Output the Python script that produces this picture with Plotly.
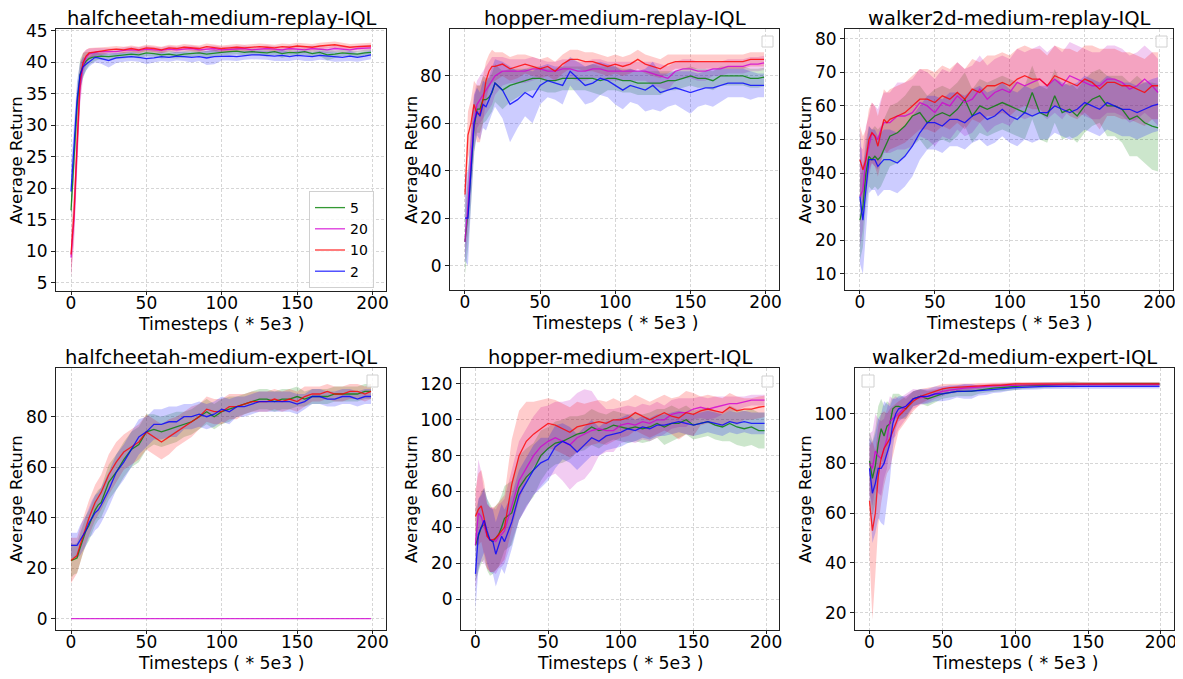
import plotly.graph_objects as go

# target picture size and the 8px page margin that the browser adds round the figure
W, H = 1183, 679
OFF = 8
FW, FH = W - OFF, H - OFF

# timesteps (* 5e3) at which the curves are read
steps = [0, 2, 4, 6, 8, 10, 12, 14, 16, 18, 20] + list(range(25, 200, 5)) + [199]

labels = ["5", "20", "10", "2"]
line_colors = ["rgba(0,128,0,0.8)", "rgba(210,0,210,0.8)", "rgba(255,0,0,0.8)", "rgba(0,0,255,0.8)"]
fill_colors = ["rgba(0,128,0,0.2)", "rgba(191,0,191,0.2)", "rgba(255,0,0,0.2)", "rgba(0,0,255,0.2)"]

titles = ["halfcheetah-medium-replay-IQL", "hopper-medium-replay-IQL", "walker2d-medium-replay-IQL",
          "halfcheetah-medium-expert-IQL", "hopper-medium-expert-IQL", "walker2d-medium-expert-IQL"]

# ---------------- halfcheetah-medium-replay
hcr_5 = [16.5, 24, 33, 38, 39.5, 40.2, 40.6, 40.8, 40.9, 41.0, 41.0,
         40.9, 41.0, 41.1, 41.3, 41.2, 41.5, 41.4,
         41.2, 41.3, 41.1, 41.3, 41.4, 41.5, 41.3,
         41.5, 41.6, 41.7, 41.8, 41.6, 41.7, 41.6,
         41.5, 41.7, 41.4, 41.6, 41.5, 41.7, 41.4,
         41.6, 41.2, 41.3, 41.5, 41.4, 41.3, 41.5,
         41.6]
hcr_5_sd = [2.5, 3, 3, 2.5, 2, 1.5, 1, 0.8, 0.7, 0.6, 0.6,
            0.5, 0.5, 0.5, 0.5, 0.6, 0.5, 0.5,
            0.6, 0.6, 0.5, 0.5, 0.5, 0.5, 0.5,
            0.5, 0.5, 0.5, 0.5, 0.5, 0.5, 0.5,
            0.6, 0.5, 0.7, 0.5, 0.5, 0.5, 0.5,
            0.6, 0.9, 0.6, 0.5, 0.5, 0.5, 0.5,
            0.5]
hcr_20 = [9, 15, 26, 36, 39.5, 40.8, 41.3, 41.5, 41.6, 41.7, 41.7,
          41.8, 41.7, 41.9, 42.0, 41.9, 42.1, 42.0,
          41.9, 42.1, 42.0, 42.1, 42.2, 42.0, 42.1,
          42.2, 42.0, 42.1, 42.1, 42.2, 42.0, 42.1,
          42.2, 42.1, 42.0, 42.2, 42.1, 42.0, 42.2,
          42.1, 42.0, 42.2, 42.1, 42.0, 42.2, 42.3,
          42.3]
hcr_20_sd = [3, 4, 4, 3, 2, 1.2, 0.9, 0.8, 0.7, 0.6, 0.6,
             0.5, 0.5, 0.5, 0.5, 0.5, 0.5, 0.5,
             0.5, 0.5, 0.5, 0.5, 0.5, 0.5, 0.5,
             0.5, 0.5, 0.5, 0.5, 0.5, 0.5, 0.5,
             0.5, 0.5, 0.5, 0.5, 0.5, 0.5, 0.5,
             0.5, 0.5, 0.5, 0.5, 0.5, 0.5, 0.5,
             0.5]
hcr_10 = [9.5, 16, 27, 37, 40, 41, 41.5, 41.6, 41.7, 41.8, 41.8,
          42.0, 42.1, 42.0, 42.2, 42.0, 42.3, 42.2,
          42.0, 42.3, 42.2, 42.4, 42.3, 42.2, 42.5,
          42.3, 42.2, 42.3, 42.4, 42.3, 42.4, 42.5,
          42.4, 42.3, 42.5, 42.4, 42.6, 42.5, 42.4,
          42.6, 42.7, 42.8, 42.6, 42.4, 42.5, 42.6,
          42.6]
hcr_10_sd = [3.5, 4, 4, 3, 1.5, 1, 0.8, 0.7, 0.7, 0.6, 0.6,
             0.5, 0.5, 0.5, 0.5, 0.5, 0.5, 0.5,
             0.5, 0.5, 0.5, 0.5, 0.5, 0.5, 0.5,
             0.5, 0.5, 0.5, 0.5, 0.5, 0.5, 0.5,
             0.5, 0.5, 0.5, 0.5, 0.5, 0.5, 0.5,
             0.5, 0.5, 0.5, 0.5, 0.5, 0.5, 0.5,
             0.5]
hcr_2 = [19.5, 26, 34, 38, 39.3, 39.7, 40.1, 40.5, 40.8, 40.7, 40.6,
         40.3, 40.7, 40.8, 40.9, 40.8, 40.6, 40.7,
         40.9, 40.8, 41.0, 40.9, 40.8, 40.9, 40.7,
         40.9, 41.0, 41.0, 40.9, 41.1, 41.2, 41.2,
         41.1, 41.0, 41.1, 40.9, 41.1, 41.0, 40.9,
         41.1, 41.0, 40.9, 40.8, 41.0, 40.8, 41.0,
         41.2]
hcr_2_sd = [4, 4, 3, 2, 1.5, 1, 0.8, 0.8, 0.8, 0.8, 0.8,
            1.1, 0.8, 0.7, 0.7, 0.7, 0.9, 0.7,
            0.7, 0.7, 0.7, 0.7, 0.8, 0.7, 1.1,
            1.2, 0.7, 0.7, 0.7, 0.7, 0.7, 0.7,
            0.7, 0.8, 0.9, 0.7, 0.7, 0.8, 0.7,
            0.7, 0.7, 0.8, 0.7, 0.8, 0.7, 0.7,
            0.7]

# ---------------- hopper-medium-replay
hor_5 = [10, 22, 40, 58, 66, 66, 70, 70, 71, 73, 77,
         74, 76, 77, 78, 79, 79, 78,
         78, 79, 79, 79, 79, 79, 78,
         79, 79, 78, 78, 77, 77, 77,
         77, 78, 78, 79, 80, 79, 79,
         78, 80, 80, 80, 80, 79, 79,
         79.5]
hor_5_sd = [14, 15, 15, 12, 10, 10, 10, 9, 8, 8, 8,
            8, 7, 6, 5, 5, 5, 5,
            5, 5, 5, 5, 5, 6, 6,
            5, 5, 5, 5, 5, 5, 5,
            5, 4, 4, 4, 4, 4, 4,
            4, 4, 4, 4, 4, 4, 4,
            4]
hor_20 = [10, 25, 45, 60, 68, 70, 72, 74, 76, 78, 80,
          82, 82, 82, 82, 83, 83, 82,
          82, 83, 83, 82, 82, 83, 83,
          82, 82, 82, 82, 82, 82, 81,
          80, 79, 82, 83, 83, 82, 82,
          83, 83, 84, 84, 84, 85, 85,
          85.5]
hor_20_sd = [8, 12, 14, 12, 10, 10, 10, 10, 10, 10, 8,
             6, 5, 5, 5, 5, 4, 4,
             4, 4, 4, 4, 4, 4, 4,
             4, 4, 4, 4, 4, 4, 5,
             5, 5, 4, 4, 4, 4, 4,
             3, 3, 3, 3, 3, 3, 3,
             3]
hor_10 = [30, 55, 60, 68, 64, 64, 70, 78, 82, 84, 84,
          85, 83, 84, 85, 84, 83, 84,
          82, 85, 87, 87, 86, 86, 85,
          84, 85, 84, 85, 87, 85, 84,
          83, 85, 86, 86, 86, 86, 86,
          86, 86, 86, 86, 86, 87, 87,
          87]
hor_10_sd = [8, 10, 10, 10, 12, 12, 10, 8, 7, 7, 6,
             5, 5, 5, 4, 4, 4, 4,
             4, 4, 4, 4, 4, 4, 4,
             4, 4, 4, 4, 4, 4, 4,
             4, 4, 3, 3, 3, 3, 3,
             3, 3, 3, 3, 3, 3, 3,
             3]
hor_2 = [20, 20, 40, 60, 65, 63, 68, 67, 70, 74, 77,
         74, 68, 70, 73, 71, 76, 78,
         77, 76, 82, 79, 76, 77, 79,
         78, 76, 74, 76, 75, 74, 76,
         73, 74, 75, 74, 73, 74, 75,
         75, 76, 77, 77, 77, 76, 76,
         76]
hor_2_sd = [18, 20, 15, 12, 10, 10, 10, 10, 10, 10, 10,
            12, 16, 12, 10, 11, 8, 7,
            7, 8, 6, 7, 8, 8, 7,
            7, 8, 8, 7, 7, 9, 10,
            8, 7, 7, 8, 9, 7, 7,
            8, 7, 6, 6, 6, 6, 5,
            5]

# ---------------- walker2d-medium-replay
wkr_5 = [26, 30, 40, 45, 44, 45, 44, 45, 47, 49, 51,
         52, 54, 57, 58, 55, 57, 58,
         57, 59, 62, 57, 60, 59, 60,
         61, 60, 59, 58, 64, 58, 57,
         63, 58, 59, 57, 60, 62, 63,
         60, 60, 59, 56, 57, 55, 54,
         53.5]
wkr_5_sd = [12, 12, 10, 9, 9, 9, 9, 9, 9, 9, 9,
            9, 9, 9, 8, 8, 8, 8,
            8, 8, 8, 8, 8, 8, 8,
            8, 8, 8, 8, 8, 8, 8,
            8, 8, 8, 8, 8, 8, 8,
            9, 9, 10, 11, 12, 12, 13,
            13]
wkr_20 = [33, 35, 44, 48, 52, 51, 50, 53, 55, 55, 55,
          57, 57, 58, 61, 60, 58, 61,
          60, 63, 61, 62, 65, 62, 64,
          65, 64, 67, 66, 67, 68, 66,
          68, 66, 69, 68, 67, 66, 66,
          68, 68, 67, 65, 66, 68, 66,
          64]
wkr_20_sd = [15, 12, 10, 9, 9, 9, 9, 9, 9, 9, 9,
             10, 10, 10, 10, 10, 10, 10,
             10, 10, 10, 10, 10, 10, 10,
             10, 10, 10, 10, 10, 10, 10,
             10, 10, 10, 10, 10, 10, 10,
             10, 10, 10, 10, 10, 10, 10,
             10]
wkr_10 = [44, 41, 44, 50, 52, 51, 48, 52, 56, 55, 56,
          57, 58, 60, 62, 62, 61, 63,
          62, 64, 62, 65, 64, 66, 66,
          67, 66, 68, 69, 68, 68, 66,
          69, 68, 67, 66, 68, 67, 65,
          67, 67, 66, 66, 65, 64, 66,
          66]
wkr_10_sd = [10, 10, 9, 9, 9, 9, 9, 9, 9, 9, 9,
             9, 9, 9, 9, 9, 9, 9,
             9, 9, 9, 9, 9, 9, 9,
             9, 9, 9, 9, 9, 9, 9,
             9, 9, 10, 10, 10, 11, 12,
             10, 10, 10, 10, 10, 10, 10,
             10]
wkr_2 = [33, 26, 35, 44, 44, 44, 42, 43, 44, 44, 44,
         43, 45, 48, 52, 55, 55, 54,
         56, 56, 55, 57, 58, 56, 57,
         59, 57, 56, 58, 57, 58, 58,
         60, 59, 58, 59, 61, 60, 59,
         61, 60, 59, 59, 58, 59, 60,
         60.5]
wkr_2_sd = [20, 16, 12, 10, 9, 9, 9, 9, 9, 9, 9,
            9, 9, 9, 8, 8, 8, 8,
            8, 8, 8, 8, 8, 8, 8,
            8, 8, 8, 8, 8, 8, 8,
            8, 8, 8, 8, 8, 8, 8,
            8, 8, 8, 8, 8, 8, 8,
            8]

# ---------------- halfcheetah-medium-expert
hce_5 = [23, 23.5, 24, 28, 32, 35, 37, 40, 43, 45, 46,
         54, 58, 63, 67, 69, 74, 75,
         74, 75, 76, 77, 78, 80, 82,
         80, 82, 83, 84, 85, 86, 87,
         87, 86, 87, 87, 88, 87, 88,
         88, 88, 89, 89, 89, 89, 90,
         90]
hce_5_sd = [7, 6, 6, 6, 6, 6, 6, 6, 6, 6, 6,
            7, 7, 7, 7, 7, 7, 6,
            6, 6, 6, 5, 5, 5, 5,
            5, 5, 5, 4, 4, 4, 4,
            4, 4, 4, 4, 4, 3, 3,
            3, 3, 3, 3, 3, 3, 3,
            3]
hce_20 = [0, 0, 0, 0, 0, 0, 0, 0, 0, 0, 0,
          0, 0, 0, 0, 0, 0, 0,
          0, 0, 0, 0, 0, 0, 0,
          0, 0, 0, 0, 0, 0, 0,
          0, 0, 0, 0, 0, 0, 0,
          0, 0, 0, 0, 0, 0, 0,
          0]
hce_20_sd = [0, 0, 0, 0, 0, 0, 0, 0, 0, 0, 0,
             0, 0, 0, 0, 0, 0, 0,
             0, 0, 0, 0, 0, 0, 0,
             0, 0, 0, 0, 0, 0, 0,
             0, 0, 0, 0, 0, 0, 0,
             0, 0, 0, 0, 0, 0, 0,
             0]
hce_10 = [23, 24, 25, 29, 33, 37, 40, 43, 46, 48, 50,
          57, 62, 66, 68, 70, 74, 72,
          70, 72, 74, 76, 78, 80, 83,
          82, 82, 84, 84, 85, 86, 86,
          86, 87, 86, 87, 86, 88, 89,
          89, 90, 89, 89, 90, 90, 89,
          90]
hce_10_sd = [9, 8, 7, 7, 7, 7, 7, 7, 7, 7, 7,
             8, 8, 7, 7, 7, 7, 7,
             7, 7, 6, 6, 6, 5, 5,
             5, 5, 5, 5, 4, 4, 4,
             4, 4, 4, 4, 4, 4, 3,
             3, 3, 3, 3, 3, 3, 3,
             3]
hce_2 = [29, 29, 29, 31, 33, 35, 38, 40, 42, 43, 45,
         51, 58, 62, 67, 72, 74, 77,
         77, 78, 78, 80, 80, 81, 80,
         81, 83, 82, 84, 84, 85, 86,
         86, 86, 86, 86, 85, 86, 88,
         88, 87, 87, 88, 88, 87, 88,
         88]
hce_2_sd = [5, 5, 5, 6, 6, 6, 6, 7, 7, 7, 7,
            7, 7, 7, 7, 7, 6, 6,
            6, 6, 6, 5, 5, 5, 5,
            5, 5, 5, 4, 4, 4, 4,
            4, 4, 4, 4, 4, 3, 3,
            3, 3, 3, 3, 3, 3, 3,
            3]

# ---------------- hopper-medium-expert
hoe_5 = [30, 35, 40, 42, 36, 33, 32, 34, 36, 40, 45,
         48, 62, 68, 72, 80, 84, 87,
         88, 90, 92, 93, 96, 94, 95,
         97, 96, 95, 96, 95, 96, 98,
         96, 98, 98, 100, 97, 98, 99,
         97, 96, 98, 96, 95, 96, 94,
         94]
hoe_5_sd = [20, 20, 20, 20, 20, 20, 18, 18, 18, 18, 18,
            18, 18, 16, 15, 14, 12, 12,
            12, 12, 10, 10, 10, 10, 8,
            8, 8, 8, 8, 8, 8, 8,
            10, 10, 8, 8, 8, 8, 8,
            8, 8, 10, 10, 10, 10, 10,
            10]
hoe_20 = [30, 48, 46, 40, 35, 33, 33, 32, 35, 36, 38,
          52, 66, 73, 80, 85, 88, 90,
          88, 86, 90, 92, 94, 95, 94,
          94, 97, 98, 97, 99, 98, 100,
          100, 103, 104, 104, 106, 107, 106,
          107, 108, 109, 109, 110, 111, 111,
          111]
hoe_20_sd = [25, 30, 25, 20, 18, 18, 18, 18, 18, 18, 18,
             20, 22, 22, 22, 22, 20, 20,
             22, 25, 25, 25, 22, 15, 12,
             12, 10, 10, 10, 10, 10, 10,
             8, 8, 8, 8, 6, 6, 6,
             6, 5, 4, 4, 3, 3, 3,
             3]
hoe_10 = [46, 50, 52, 45, 35, 33, 33, 34, 36, 38, 40,
          64, 80, 88, 92, 95, 98, 97,
          95, 93, 96, 97, 98, 99, 98,
          100, 100, 101, 104, 102, 100, 102,
          104, 102, 101, 104, 103, 105, 106,
          105, 104, 107, 105, 106, 106, 107,
          107.5]
hoe_10_sd = [15, 20, 20, 20, 18, 18, 18, 18, 18, 18, 18,
             25, 25, 22, 18, 16, 14, 14,
             14, 14, 14, 12, 12, 12, 12,
             12, 10, 10, 10, 10, 10, 10,
             10, 10, 12, 12, 12, 8, 8,
             8, 8, 8, 8, 6, 6, 6,
             6]
hoe_2 = [14, 36, 40, 44, 38, 33, 32, 25, 30, 35, 32,
         43, 58, 65, 72, 76, 78, 85,
         88, 86, 82, 86, 90, 88, 91,
         92, 93, 95, 94, 96, 95, 97,
         97, 98, 99, 98, 97, 98, 99,
         98, 97, 99, 98, 99, 98, 98,
         98]
hoe_2_sd = [20, 20, 18, 18, 18, 18, 18, 18, 18, 18, 18,
            15, 14, 14, 14, 14, 12, 12,
            10, 10, 10, 10, 10, 8, 8,
            8, 8, 8, 6, 6, 6, 6,
            6, 6, 6, 6, 6, 6, 6,
            6, 6, 6, 6, 6, 6, 6,
            6]

# ---------------- walker2d-medium-expert
wke_5 = [81, 74, 79, 88, 94, 91, 95, 96, 102, 103, 103,
         102, 106, 107, 106, 107, 108, 108.5,
         109, 109, 109, 109.5, 110, 110.3, 110.5,
         110.8, 111, 111.2, 111.3, 111.5, 111.5, 111.6,
         111.7, 111.8, 111.8, 111.8, 111.9, 111.9, 111.9,
         112, 112, 112, 112, 112, 112, 112,
         112]
wke_5_sd = [12, 15, 15, 15, 12, 12, 10, 8, 6, 5, 5,
            4, 3, 3, 3, 2.5, 2, 2,
            2, 2, 2, 1.5, 1.5, 1.5, 1.5,
            1.5, 1.5, 1.2, 1.2, 1, 1, 1,
            1, 1, 1.2, 1, 0.8, 0.8, 0.8,
            0.8, 0.8, 0.8, 0.8, 0.8, 0.8, 0.8,
            0.8]
wke_20 = [80, 78, 85, 83, 82, 86, 90, 97, 98, 99, 100,
          103, 106, 106.5, 107, 108, 109, 109.5,
          110, 110.3, 110.5, 110.8, 111, 111.2, 111.3,
          111.4, 111.5, 111.6, 111.6, 111.7, 111.7, 111.7,
          111.8, 111.8, 111.8, 111.8, 111.8, 111.8, 111.8,
          111.8, 111.8, 111.8, 111.8, 111.8, 111.8, 111.8,
          111.8]
wke_20_sd = [12, 15, 15, 15, 15, 12, 12, 10, 8, 8, 6,
             5, 4, 3, 2.5, 2, 2, 1.5,
             1.5, 1.5, 1.2, 1.2, 1, 1, 1,
             1, 1, 1, 1, 1, 1, 1,
             0.8, 0.8, 0.8, 0.8, 0.8, 0.8, 0.8,
             0.8, 0.8, 0.8, 0.8, 0.8, 0.8, 0.8,
             0.8]
wke_10 = [65, 53, 60, 75, 82, 86, 88, 90, 93, 96, 99,
          102, 105, 107, 108, 109, 110, 110.5,
          110.5, 110.8, 111, 111.2, 111.5, 111.5, 111.5,
          111.8, 112, 112, 112, 112, 112, 112,
          112, 112, 112, 112, 112, 112, 112,
          112, 112, 112, 112, 112, 112, 112,
          112]
wke_10_sd = [22, 36, 25, 20, 18, 15, 12, 12, 10, 8, 6,
             5, 4, 3, 2.5, 2, 2, 1.5,
             1.5, 1.5, 1.2, 1.2, 1, 1, 1,
             0.7, 0.7, 0.7, 0.7, 0.7, 0.7, 0.7,
             0.7, 0.7, 0.7, 0.7, 0.7, 0.7, 0.7,
             0.7, 0.7, 0.7, 0.7, 0.7, 0.7, 0.7,
             0.7]
wke_2 = [78, 68, 72, 78, 78, 80, 84, 88, 96, 100, 102,
         103, 106, 107, 107, 108, 108, 108.5,
         109, 109, 109, 109.3, 109.5, 109.8, 110,
         110.3, 110.5, 110.6, 110.8, 110.8, 111, 111,
         111, 111, 111, 111, 111, 111, 111,
         111, 111, 111, 111, 111, 111, 111,
         111]
wke_2_sd = [12, 20, 20, 20, 22, 25, 20, 15, 10, 6, 5,
            4, 3, 3, 3, 3, 3, 3,
            2.5, 3, 3, 2, 2, 1.5, 1.5,
            1.2, 1, 1, 1, 1, 1, 1,
            0.8, 0.8, 0.8, 0.8, 0.8, 0.8, 0.8,
            0.8, 0.8, 0.8, 0.8, 0.8, 0.8, 0.8,
            0.8]

panels = [
    [(hcr_5, hcr_5_sd), (hcr_20, hcr_20_sd), (hcr_10, hcr_10_sd), (hcr_2, hcr_2_sd)],
    [(hor_5, hor_5_sd), (hor_20, hor_20_sd), (hor_10, hor_10_sd), (hor_2, hor_2_sd)],
    [(wkr_5, wkr_5_sd), (wkr_20, wkr_20_sd), (wkr_10, wkr_10_sd), (wkr_2, wkr_2_sd)],
    [(hce_5, hce_5_sd), (hce_20, hce_20_sd), (hce_10, hce_10_sd), (hce_2, hce_2_sd)],
    [(hoe_5, hoe_5_sd), (hoe_20, hoe_20_sd), (hoe_10, hoe_10_sd), (hoe_2, hoe_2_sd)],
    [(wke_5, wke_5_sd), (wke_20, wke_20_sd), (wke_10, wke_10_sd), (wke_2, wke_2_sd)],
]

# axes boxes in screen pixels (left, right, top, bottom), y ranges and tick step
boxes = [(56, 386, 29, 291), (450, 779, 29, 290), (845, 1173, 29, 290),
         (56, 386, 368, 630), (461, 779, 368, 630), (855, 1174, 368, 630)]
ylabel_x = [16, 411, 805, 16, 411, 805]
y_ranges = [(3.7, 45.3), (-10.3, 99.8), (5.2, 82.9), (-4.5, 99.3), (-17.3, 128.9), (13.0, 118.4)]
y_dticks = [5, 20, 10, 20, 20, 20]


def fx(px):
    return (px - OFF) / FW


def fy(py):
    return 1 - (py - OFF) / FH


FONT = "DejaVu Sans"
fig = go.Figure()

for p, series in enumerate(panels):
    xa = "x" if p == 0 else "x%d" % (p + 1)
    ya = "y" if p == 0 else "y%d" % (p + 1)
    for k, (mean, sd) in enumerate(series):
        upper = [m + s for m, s in zip(mean, sd)]
        lower = [m - s for m, s in zip(mean, sd)]
        fig.add_trace(go.Scatter(x=steps + steps[::-1], y=upper + lower[::-1], fill="toself",
                                 fillcolor=fill_colors[k], line=dict(width=0), mode="lines",
                                 hoverinfo="skip", showlegend=False, xaxis=xa, yaxis=ya))
    for k, (mean, sd) in enumerate(series):
        fig.add_trace(go.Scatter(x=steps, y=mean, mode="lines", name=labels[k],
                                 line=dict(color=line_colors[k], width=1.3),
                                 showlegend=(p == 0), xaxis=xa, yaxis=ya))

layout = dict(width=FW, height=FH, margin=dict(l=0, r=0, t=0, b=0),
              paper_bgcolor="white", plot_bgcolor="white",
              font=dict(family=FONT, size=17, color="black"))
annotations = []
shapes = []
for p, (l, r, t, b) in enumerate(boxes):
    suf = "" if p == 0 else str(p + 1)
    common = dict(showline=True, linecolor="#222", linewidth=1, mirror=True,
                  tickcolor="#222", showgrid=True, gridcolor="#d6d6d6", griddash="3px,2px",
                  gridwidth=0.8, zeroline=False, tickfont=dict(family=FONT, size=17, color="black"),
                  automargin=False)
    layout["xaxis" + suf] = dict(domain=[fx(l), fx(r)], anchor="y" + suf, ticks="outside", ticklen=3,
                                 ticklabelstandoff=-6,
                                 range=[-9.95, 208.95], dtick=50, tick0=0, **common)
    layout["yaxis" + suf] = dict(domain=[fy(b), fy(t)], anchor="x" + suf, ticks="outside", ticklen=4,
                                 range=list(y_ranges[p]), dtick=y_dticks[p], tick0=0, **common)
    cx = (l + r) / 2
    annotations.append(dict(text=titles[p], x=fx(cx), y=fy(t), xref="paper", yref="paper",
                            xanchor="center", yanchor="bottom", yshift=-3, showarrow=False,
                            font=dict(family=FONT, size=19.5, color="black")))
    annotations.append(dict(text="Timesteps ( * 5e3 )", x=fx(cx), y=fy(b + 33), xref="paper", yref="paper",
                            xanchor="center", yanchor="middle", showarrow=False,
                            font=dict(family=FONT, size=17.3, color="black")))
    annotations.append(dict(text="Average Return", x=fx(ylabel_x[p]), y=fy((t + b) / 2),
                            xref="paper", yref="paper", textangle=-90,
                            xanchor="center", yanchor="middle", showarrow=False,
                            font=dict(family=FONT, size=16.5, color="black")))

# empty legend boxes drawn by matplotlib in the other panels
empty_boxes = [(762, 773, 36, 47), (1156, 1167, 36, 47), (367, 378, 375, 387),
               (762, 773, 376, 387), (862, 874, 375, 387)]
for (x0, x1, y0, y1) in empty_boxes:
    shapes.append(dict(type="rect", xref="paper", yref="paper", x0=fx(x0), x1=fx(x1),
                       y0=fy(y1), y1=fy(y0), line=dict(color="#d0d0d0", width=1),
                       fillcolor="rgba(255,255,255,0.8)"))

layout["annotations"] = annotations
layout["shapes"] = shapes
layout["legend"] = dict(x=fx(309), y=fy(191), xanchor="left", yanchor="top",
                        bgcolor="rgba(255,255,255,0.8)", bordercolor="#d0d0d0", borderwidth=1,
                        font=dict(family=FONT, size=14, color="black"), itemwidth=30)
fig.update_layout(**layout)
fig.write_html("out.html")
